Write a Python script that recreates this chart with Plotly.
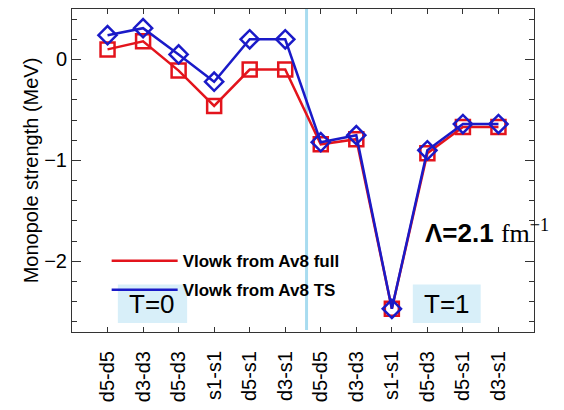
import plotly.graph_objects as go

categories = ["d5-d5", "d3-d3", "d5-d3", "s1-s1", "d5-s1", "d3-s1",
              "d5-d5", "d3-d3", "s1-s1", "d5-d3", "d5-s1", "d3-s1"]
positions = list(range(1, 13))
full_vals = [0.10, 0.18, -0.11, -0.46, -0.10, -0.10,
             -0.84, -0.79, -2.47, -0.93, -0.67, -0.67]
ts_vals = [0.24, 0.31, 0.05, -0.22, 0.20, 0.20,
           -0.82, -0.75, -2.47, -0.90, -0.64, -0.64]
series_names = ["Vlowk from Av8 full", "Vlowk from Av8 TS"]
separator_x = 6.6

RED = "#e3141c"
BLUE = "#1a1ac8"
FONT = "Liberation Sans, Arial, sans-serif"

fig = go.Figure()
fig.add_trace(go.Scatter(
    x=positions, y=full_vals, mode="lines+markers", name=series_names[0],
    legendgroup="a", showlegend=False,
    line=dict(color=RED, width=2.5),
    marker=dict(symbol="square-open", size=14, color=RED, line=dict(width=2.5, color=RED)),
))
fig.add_trace(go.Scatter(
    x=positions, y=ts_vals, mode="lines+markers", name=series_names[1],
    legendgroup="b", showlegend=False,
    line=dict(color=BLUE, width=2.5),
    marker=dict(symbol="diamond-open", size=14, color=BLUE, line=dict(width=2.5, color=BLUE)),
))
# legend entries (line only)
for name, col, grp in [(series_names[0], RED, "a"), (series_names[1], BLUE, "b")]:
    fig.add_trace(go.Scatter(x=[None], y=[None], mode="lines", name=name,
                             legendgroup=grp, line=dict(color=col, width=2.5)))

# separator line
fig.add_shape(type="line", x0=separator_x, x1=separator_x, y0=-2.68, y1=0.5,
              xref="x", yref="y", line=dict(color="#a8dcf0", width=3), layer="below")

# T boxes
for x0, x1, txt in [(1.29, 3.24, "T=0"), (9.59, 11.5, "T=1")]:
    fig.add_shape(type="rect", x0=x0, x1=x1, y0=-2.61, y1=-2.23, xref="x", yref="y",
                  fillcolor="#d8eff9", line=dict(width=0), layer="below")
    fig.add_annotation(x=(x0 + x1) / 2, y=-2.42, xref="x", yref="y", text=txt,
                       showarrow=False, font=dict(size=26, color="black", family=FONT))

fig.add_annotation(x=9.87, y=-1.70, xref="x", yref="y", xanchor="left",
                   text="<b>Λ=2.1</b> <span style='font-family:Liberation Serif, serif'>fm<sup>−1</sup></span>",
                   showarrow=False, font=dict(size=26, color="black", family=FONT))

fig.update_layout(
    width=564, height=410,
    margin=dict(l=72, r=30, t=8, b=70),
    paper_bgcolor="white", plot_bgcolor="white",
    font=dict(family=FONT, color="black"),
    legend=dict(x=0.075, y=0.275, xanchor="left", yanchor="top",
                bgcolor="rgba(0,0,0,0)", borderwidth=0, itemwidth=66,
                tracegroupgap=4,
                font=dict(size=17, family=FONT, weight="bold")),
    xaxis=dict(range=[0, 13], tickmode="array", tickvals=positions, ticktext=categories,
               tickangle=-90, ticks="inside", ticklen=5, tickcolor="#333",
               showline=True, linecolor="#333", linewidth=1, mirror="allticks",
               showgrid=False, zeroline=False, tickfont=dict(size=20),
               ticklabelstandoff=10),
    yaxis=dict(range=[-2.7, 0.5], tickmode="array", tickvals=[-2, -1, 0],
               ticktext=["−2", "−1", "0"],
               ticks="inside", ticklen=9, tickcolor="#333",
               minor=dict(tickmode="linear", dtick=0.2, tick0=0, ticks="inside",
                          ticklen=5, tickcolor="#333"),
               showline=True, linecolor="#333", linewidth=1, mirror="allticks",
               showgrid=False, zeroline=False, tickfont=dict(size=20),
               title=dict(text="Monopole strength (MeV)", font=dict(size=20), standoff=0)),
)

fig.write_html("out.html")
